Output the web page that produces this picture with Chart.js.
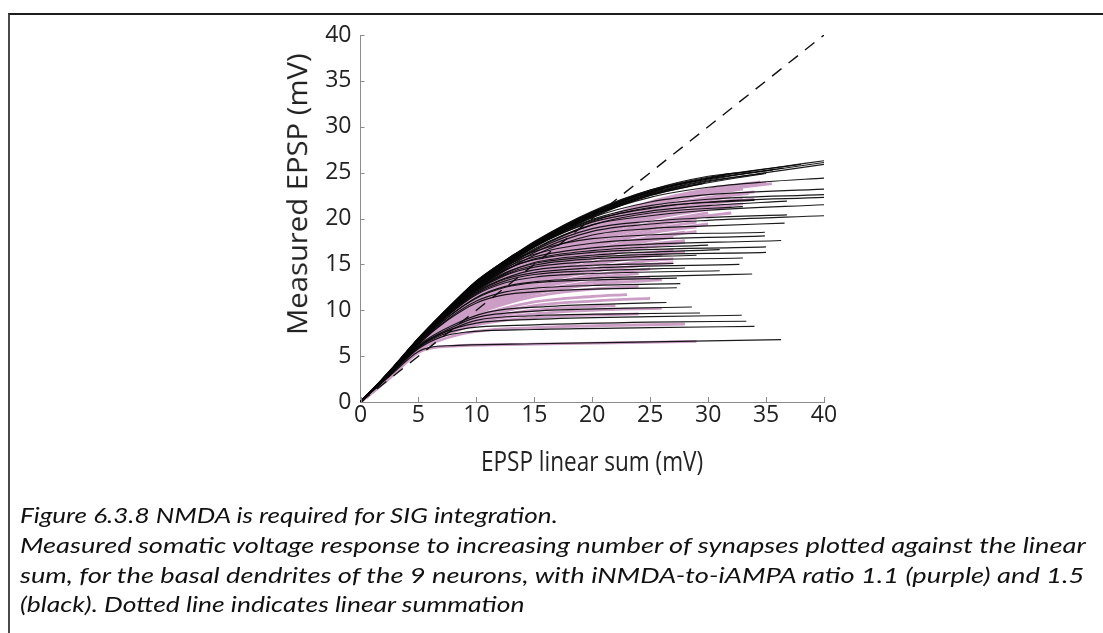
<!DOCTYPE html>
<html>
<head>
<meta charset="utf-8">
<script src="https://cdn.jsdelivr.net/npm/chart.js@4.4.1/dist/chart.umd.min.js"></script>
<style>
  html, body { margin: 0; padding: 0; background: #fff; width: 1103px; height: 633px; overflow: hidden; }
  #frame { position: absolute; left: 8px; top: 13px; right: -20px; bottom: -20px;
           border-top: 2px solid #1c1c1c; border-left: 2px solid #4a4a4a; }
  #plot { position: absolute; left: 0; top: 0; }
  .t { position: absolute; left: 0; top: 0; white-space: nowrap; color: #222; transform-origin: 0 0; line-height: 1; }
  .axisTitle { font-family: 'Open Sans', sans-serif; }
  .cap { font-family: 'Lato', sans-serif; font-style: italic; font-size: 21px; color: #111; }
</style>
</head>
<body>
<div id="frame"></div>
<canvas id="plot" width="1103" height="633"></canvas>
<div class="t axisTitle" id="xTitle" style="font-size:27px">EPSP linear sum (mV)</div>
<div class="t axisTitle" id="yTitle" style="font-size:28px">Measured EPSP (mV)</div>
<div class="t cap" id="cap1">Figure 6.3.8 NMDA is required for SIG integration.</div>
<div class="t cap" id="cap2">Measured somatic voltage response to increasing number of synapses plotted against the linear</div>
<div class="t cap" id="cap3">sum, for the basal dendrites of the 9 neurons, with iNMDA-to-iAMPA ratio 1.1 (purple) and 1.5</div>
<div class="t cap" id="cap4">(black). Dotted line indicates linear summation</div>
<script>
// Axis ticks (mV)
const xTicks = [0, 5, 10, 15, 20, 25, 30, 35, 40];
const yTicks = [0, 5, 10, 15, 20, 25, 30, 35, 40];

// Linear summation reference: measured = linear sum
const identityLine = [[0, 0], [40, 40]];

// iNMDA/iAMPA = 1.5 (black): [linear sum, measured EPSP] per recording
const blackTop = [
  [[0,0],[2.5,3.3],[5,6.9],[7.5,10.1],[10,13.0],[15,17.4],[20,20.7],[25,23.0],[30,24.4],[35,25.4],[40,26.3]],
  [[0,0],[2.5,3.3],[5,6.8],[7.5,10.0],[10,12.9],[15,17.2],[20,20.5],[25,22.8],[30,24.2],[35,25.2],[40,26.1]],
  [[0,0],[2.5,3.2],[5,6.8],[7.5,9.9],[10,12.7],[15,17.0],[20,20.3],[25,22.6],[30,24.0],[35,25.0],[40,25.9]],
  [[0,0],[2.5,3.3],[5,6.9],[7.5,10.1],[10,13.0],[15,17.3],[20,20.6],[25,22.9],[30,24.3],[35.6,25.3]],
  [[0,0],[2.5,3.3],[5,6.9],[7.5,10.2],[10,13.1],[15,17.4],[20,20.7],[25,23.1],[30,24.6],[33.6,25.1]],
  [[0,0],[2.5,3.3],[5,6.9],[7.5,10.1],[10,13.0],[15,17.3],[20,20.6],[25,23.0],[31.6,24.8]],
  [[0,0],[2.5,3.3],[5,6.8],[7.5,10.0],[10,12.9],[15,17.2],[20,20.5],[25,22.9],[28.7,24.1]],
  [[0,0],[2.5,3.2],[5,6.8],[7.5,9.9],[10,12.8],[15,17.0],[20,20.4],[25,22.6],[27.9,23.6]],
  [[0,0],[2.5,3.3],[5,6.9],[7.5,10.1],[10,13.0],[15,17.2],[20,20.5],[26.1,23.2]],
  [[0,0],[2.5,3.3],[5,6.9],[7.5,10.2],[10,13.2],[12,15.0],[14,16.6],[16,17.6],[20,20.3],[24,22.3]],
  [[0,0],[2.5,3.2],[5,6.7],[7.5,9.8],[10,12.6],[15,16.9],[20,20.1],[25,22.5],[30,23.9],[35,24.9]],
  [[0,0],[2.5,3.3],[5,6.9],[7.5,10.1],[10,13.1],[15,17.3],[20,20.6],[25,22.9],[30,24.3],[36.5,25.5]],
  [[0,0],[2.5,3.3],[5,6.8],[7.5,10.0],[10,12.9],[15,17.1],[20,20.4],[25,22.7],[30,24.1],[34.8,24.9]],
  [[0,0],[2.5,3.2],[5,6.8],[7.5,9.9],[10,12.8],[15,17.1],[20,20.2],[25,22.5],[29.5,23.8]],
  [[0,0],[2.5,3.4],[5,7.0],[7.5,10.2],[10,13.2],[12.5,15.4],[15,17.5],[20,20.8],[25,23.1],[30,24.5],[38,25.9]],
  [[0,0],[2.5,3.3],[5,6.9],[7.5,10.1],[10,13.1],[13,15.9],[14.5,16.9],[17,18.6],[20,20.3],[23,21.8]]
];
const blackUpper = [
  [[0,0],[2.5,3.2],[5,6.7],[7.5,9.7],[10,12.3],[15,16.0],[20,18.2],[25,18.9],[30,19.2],[36.6,19.5]],
  [[0,0],[2.5,3.2],[5,6.7],[7.5,9.8],[10,12.4],[15,16.3],[20,18.6],[25,19.4],[30,19.8],[40,20.3]],
  [[0,0],[2.5,3.2],[5,6.7],[7.5,9.8],[10,12.5],[15,16.5],[20,18.9],[25,19.7],[30,20.1],[36.8,20.4]],
  [[0,0],[2.5,3.2],[5,6.8],[7.5,9.9],[10,12.6],[15,16.7],[20,19.3],[25,20.3],[30,20.9],[40,21.5]],
  [[0,0],[2.5,3.2],[5,6.8],[7.5,9.9],[10,12.7],[15,16.9],[20,19.6],[25,20.8],[30,21.4],[36.8,21.9]],
  [[0,0],[2.5,3.2],[5,6.8],[7.5,9.9],[10,12.7],[15,17.0],[20,19.8],[25,21.1],[30,21.8],[40,22.3]],
  [[0,0],[2.5,3.2],[5,6.8],[7.5,10.0],[10,12.8],[15,17.0],[20,19.9],[25,21.4],[30,22.1],[40,22.6]],
  [[0,0],[2.5,3.2],[5,6.8],[7.5,10.0],[10,12.8],[15,17.1],[20,20.1],[25,21.8],[30,22.6],[40,23.2]],
  [[0,0],[2.5,3.3],[5,6.8],[7.5,10.0],[10,12.9],[15,17.2],[20,20.3],[25,22.3],[30,23.4],[35,24.0],[40,24.4]],
  [[0,0],[2.5,3.2],[5,6.7],[7.5,9.8],[10,12.6],[15,16.6],[20,19.3],[25,20.6],[33,21.3]],
  [[0,0],[2.5,3.2],[5,6.8],[7.5,9.9],[10,12.7],[15,16.9],[20,19.7],[25,21.2],[34,22.0]]
];
const blackMiddle = [
  [[0,0],[2.5,3.0],[5,6.3],[7.5,8.9],[10,10.8],[12.5,11.7],[15,12.0],[20,12.3],[27.3,12.45]],
  [[0,0],[2.5,3.0],[5,6.3],[7.5,9.0],[10,11.0],[12.5,12.0],[15,12.4],[20,12.7],[27.6,12.9]],
  [[0,0],[2.5,3.0],[5,6.4],[7.5,9.2],[10,11.3],[12.5,12.5],[15,13.0],[20,13.3],[27.3,13.5]],
  [[0,0],[2.5,3.1],[5,6.4],[7.5,9.2],[10,11.4],[12.5,12.6],[15,13.1],[20,13.5],[27,13.75],[33.8,13.95]],
  [[0,0],[2.5,3.1],[5,6.5],[7.5,9.4],[10,11.7],[12.5,13.0],[15,13.6],[20,14.0],[31,14.3]],
  [[0,0],[2.5,3.1],[5,6.5],[7.5,9.5],[10,11.9],[12.5,13.4],[15,14.1],[20,14.6],[32.7,15.0]],
  [[0,0],[2.5,3.1],[5,6.6],[7.5,9.6],[10,12.1],[12.5,13.8],[15,14.7],[20,15.3],[33,15.7]],
  [[0,0],[2.5,3.1],[5,6.6],[7.5,9.6],[10,12.2],[12.5,14.1],[15,15.1],[20,15.8],[35,16.3]],
  [[0,0],[2.5,3.2],[5,6.7],[7.5,9.7],[10,12.3],[12.5,14.4],[15,15.5],[20,16.3],[35,16.9]],
  [[0,0],[2.5,3.2],[5,6.7],[7.5,9.7],[10,12.4],[12.5,14.6],[15,15.8],[20,16.8],[36.3,17.6]],
  [[0,0],[2.5,3.2],[5,6.7],[7.5,9.8],[10,12.5],[12.5,14.8],[15,16.1],[20,17.3],[34.9,18.1]],
  [[0,0],[2.5,3.2],[5,6.8],[7.5,9.8],[10,12.6],[12.5,15.0],[15,16.4],[20,17.8],[34.9,18.5]],
  [[0,0],[2.5,3.1],[5,6.6],[7.5,9.5],[10,12.0],[12.5,13.5],[15,14.4],[20,14.9],[27,15.1]],
  [[0,0],[2.5,3.1],[5,6.6],[7.5,9.6],[10,12.2],[12.5,13.9],[15,14.9],[20,15.6],[29,16.0]],
  [[0,0],[2.5,3.2],[5,6.7],[7.5,9.7],[10,12.4],[12.5,14.4],[15,15.6],[20,16.5],[30,17.1]],
  [[0,0],[2.5,3.1],[5,6.5],[7.5,9.4],[10,11.8],[12.5,13.2],[15,13.9],[20,14.3],[28,14.6]],
  [[0,0],[2.5,3.1],[5,6.6],[7.5,9.6],[10,12.2],[12.5,14.0],[15,15.2],[20,16.0],[31,16.6]]
];
const blackLower = [
  [[0,0],[2.5,2.8],[5,5.5],[6,5.95],[8,6.15],[15,6.35],[25,6.55],[36.3,6.8]],
  [[0,0],[2.5,2.9],[5,5.8],[7,7.1],[9,7.6],[15,7.9],[25,8.1],[34,8.25]],
  [[0,0],[2.5,2.9],[5,5.9],[7,7.3],[9,8.0],[15,8.4],[25,8.7],[33.3,8.8]],
  [[0,0],[2.5,2.9],[5,6.0],[7,7.5],[10,8.6],[15,9.0],[25,9.3],[32.9,9.45]],
  [[0,0],[2.5,2.9],[5,6.0],[8,8.0],[10,8.9],[15,9.4],[22,9.6],[29.3,9.7]],
  [[0,0],[2.5,3.0],[5,6.1],[8,8.2],[10,9.2],[15,9.9],[22,10.2],[28.6,10.35]],
  [[0,0],[2.5,3.0],[5,6.2],[8,8.4],[11,9.8],[16,10.4],[22,10.7],[26.4,10.85]]
];

// iNMDA/iAMPA = 1.1 (purple)
const purpleRuns = [
  [[0,0],[2.5,3.0],[5,6.4],[7.5,9.4],[10,12.1],[15,16.3],[20,19.5],[25,21.8],[30,23.2],[34.5,24.0]],
  [[0,0],[2.5,3.0],[5,6.3],[7.5,9.3],[10,11.9],[15,16.0],[20,19.1],[25,21.3],[30,22.7],[33,23.2]],
  [[0,0],[2.5,2.9],[5,6.2],[7.5,9.1],[10,11.7],[15,15.7],[20,18.7],[25,20.8],[30,22.0],[32,22.4]],
  [[0,0],[2.5,2.9],[5,6.2],[7.5,9.0],[10,11.5],[15,15.4],[20,18.2],[25,20.2],[31,21.4]],
  [[0,0],[2.5,2.9],[5,6.1],[7.5,8.9],[10,11.3],[15,15.0],[20,17.7],[25,19.5],[30,20.6]],
  [[0,0],[2.5,2.8],[5,6.1],[7.5,8.8],[10,11.1],[15,14.6],[20,17.1],[25,18.8],[29,19.6]],
  [[0,0],[2.5,2.8],[5,6.0],[7.5,8.7],[10,10.9],[15,14.2],[20,16.5],[25,18.0],[28,18.5]],
  [[0,0],[2.5,2.8],[5,6.0],[7.5,8.6],[10,10.7],[15,13.8],[20,15.9],[25,17.2],[28,17.6]],
  [[0,0],[2.5,2.8],[5,5.9],[7.5,8.5],[10,10.5],[15,13.4],[20,15.2],[25,16.3],[27,16.6]],
  [[0,0],[2.5,2.7],[5,5.9],[7.5,8.4],[10,10.3],[15,13.0],[20,14.5],[25,15.4],[27,15.6]],
  [[0,0],[2.5,2.7],[5,5.9],[7.5,8.3],[10,10.1],[15,12.5],[20,13.8],[25,14.5]],
  [[0,0],[2.5,2.7],[5,5.8],[7.5,8.1],[10,9.9],[15,12.0],[20,13.1],[25,13.6]],
  [[0,0],[2.5,2.7],[5,5.8],[7.5,8.0],[10,9.6],[15,11.5],[20,12.3],[24,12.6]],
  [[0,0],[2.5,2.7],[5,5.8],[7.5,7.9],[10,9.3],[15,10.9],[20,11.5],[23,11.7]],
  [[0,0],[2.5,2.7],[5,5.7],[7.5,7.7],[10,8.9],[15,10.0],[22,10.5]],
  [[0,0],[2.5,2.7],[5,5.7],[7.5,7.4],[10,8.4],[15,9.2],[24,9.6]],
  [[0,0],[2.5,2.6],[5,5.6],[7.5,7.0],[10,7.7],[15,8.1],[28,8.5]],
  [[0,0],[2.5,2.6],[5,5.4],[6,5.85],[8,6.1],[15,6.3],[29,6.6]],
  [[0,0],[2.5,3.0],[5,6.4],[7.5,9.4],[10,12.0],[15,16.2],[20,19.3],[25,21.6],[30,23.0],[35,23.9]],
  [[0,0],[2.5,2.9],[5,6.3],[7.5,9.2],[10,11.8],[15,15.9],[20,18.9],[25,21.0],[30,22.3],[34,22.9]],
  [[0,0],[2.5,2.9],[5,6.2],[7.5,9.1],[10,11.6],[15,15.6],[20,18.5],[25,20.5],[30,21.7],[33,22.1]],
  [[0,0],[2.5,2.9],[5,6.2],[7.5,9.0],[10,11.4],[15,15.2],[20,17.9],[25,19.9],[30,21.0],[32,21.3]],
  [[0,0],[2.5,2.8],[5,6.1],[7.5,8.8],[10,11.2],[15,14.8],[20,17.4],[25,19.1],[29,20.0]],
  [[0,0],[2.5,2.8],[5,6.0],[7.5,8.7],[10,11.0],[15,14.4],[20,16.8],[25,18.4],[29,19.1]],
  [[0,0],[2.5,2.8],[5,6.0],[7.5,8.6],[10,10.8],[15,14.0],[20,16.2],[25,17.6],[27,18.0]],
  [[0,0],[2.5,2.7],[5,5.9],[7.5,8.4],[10,10.4],[15,13.2],[20,14.9],[25,15.9],[26,16.0]],
  [[0,0],[2.5,2.7],[5,5.8],[7.5,8.2],[10,10.0],[15,12.3],[20,13.5],[24,14.0]],
  [[0,0],[2.5,3.0],[5,6.3],[7.5,9.3],[10,12.0],[15,16.1],[20,19.2],[25,21.4],[30,22.9],[35.5,23.8]],
  [[0,0],[2.5,2.9],[5,6.3],[7.5,9.2],[10,11.8],[15,15.8],[20,18.8],[25,20.9],[30,22.2],[33.5,22.7]],
  [[0,0],[2.5,2.9],[5,6.2],[7.5,9.1],[10,11.6],[15,15.5],[20,18.4],[25,20.4],[30,21.6],[34,22.1]],
  [[0,0],[2.5,2.9],[5,6.2],[7.5,9.0],[10,11.4],[15,15.3],[20,18.0],[25,20.0],[30,21.2],[33,21.6]],
  [[0,0],[2.5,2.8],[5,6.1],[7.5,8.9],[10,11.2],[15,14.9],[20,17.5],[25,19.3],[30,20.3],[32,20.6]],
  [[0,0],[2.5,2.8],[5,6.1],[7.5,8.8],[10,11.0],[15,14.5],[20,16.9],[25,18.5],[30,19.4]],
  [[0,0],[2.5,2.8],[5,6.0],[7.5,8.7],[10,10.8],[15,14.1],[20,16.3],[25,17.8],[29,18.6]],
  [[0,0],[2.5,2.8],[5,6.0],[7.5,8.6],[10,10.6],[15,13.6],[20,15.6],[25,16.9],[28,17.4]],
  [[0,0],[2.5,2.7],[5,5.9],[7.5,8.5],[10,10.4],[15,13.2],[20,15.0],[25,16.0],[28,16.4]],
  [[0,0],[2.5,2.7],[5,5.9],[7.5,8.3],[10,10.2],[15,12.8],[20,14.2],[25,15.0],[27,15.2]],
  [[0,0],[2.5,2.7],[5,5.8],[7.5,8.2],[10,9.8],[15,11.8],[20,12.8],[26,13.3]],
  [[0,0],[2.5,2.7],[5,5.8],[7.5,7.8],[10,9.1],[15,10.5],[20,11.0],[25,11.3]],
  [[0,0],[2.5,2.7],[5,5.7],[7.5,7.6],[10,8.7],[15,9.6],[20,10.0],[26,10.2]]
];

const PURPLE = 'rgb(204,158,198)';
const BLACK = 'rgba(8,8,8,0.92)';
const AXIS = '#8c8c8c';
const TICK_FONT = { family: "'Open Sans', sans-serif", size: 23 };

function trace(points, color, width, order) {
  return {
    data: points,
    showLine: true,
    borderColor: color,
    borderWidth: width,
    pointRadius: 0,
    cubicInterpolationMode: 'monotone',
    order: order
  };
}

const datasets = [];
// higher order is painted first: purple underneath, black over it, dashed identity on top
purpleRuns.forEach(c => datasets.push(trace(c, PURPLE, 2.8, 3)));
[...blackLower, ...blackMiddle, ...blackUpper, ...blackTop]
  .forEach(c => datasets.push(trace(c, BLACK, 1.15, 2)));
datasets.push(Object.assign(trace(identityLine, '#111', 1.4, 1), { borderDash: [12, 9], cubicInterpolationMode: 'default' }));

// short tick marks drawn inward from both axes
const innerTicks = {
  id: 'innerTicks',
  afterDraw(chart) {
    const { ctx, chartArea: a, scales: { x, y } } = chart;
    ctx.save();
    ctx.strokeStyle = AXIS;
    ctx.lineWidth = 1;
    ctx.beginPath();
    xTicks.forEach(v => {
      const px = Math.round(x.getPixelForValue(v)) + 0.5;
      ctx.moveTo(px, a.bottom);
      ctx.lineTo(px, a.bottom - 5);
    });
    yTicks.forEach(v => {
      const py = Math.round(y.getPixelForValue(v)) + 0.5;
      ctx.moveTo(a.left, py);
      ctx.lineTo(a.left + 4, py);
    });
    ctx.stroke();
    ctx.restore();
  }
};

function drawChart() {
  new Chart(document.getElementById('plot'), {
    type: 'scatter',
    data: { datasets },
    plugins: [innerTicks],
    options: {
      responsive: false,
      animation: false,
      devicePixelRatio: 1,
      layout: { padding: { left: 0, top: 35, right: 279, bottom: 0 } },
      plugins: { legend: { display: false }, tooltip: { enabled: false } },
      scales: {
        x: {
          type: 'linear', min: 0, max: 40,
          afterFit(s) { s.height = 231; },
          afterBuildTicks(s) { s.ticks = xTicks.map(v => ({ value: v })); },
          grid: { display: false, drawTicks: false },
          border: { display: true, color: AXIS, width: 1 },
          ticks: { padding: 0, color: '#222', font: TICK_FONT, maxRotation: 0 }
        },
        y: {
          type: 'linear', min: 0, max: 40,
          afterFit(s) { s.width = 360.5; },
          afterBuildTicks(s) { s.ticks = yTicks.map(v => ({ value: v })); },
          grid: { display: false, drawTicks: false },
          border: { display: true, color: AXIS, width: 1 },
          ticks: { padding: 9, color: '#222', font: TICK_FONT }
        }
      }
    }
  });
}

// place text blocks: horizontal ones by left edge / centre, scaled to their set width
function placeH(id, left, midY, width, centre) {
  const el = document.getElementById(id);
  const w = el.offsetWidth, h = el.offsetHeight;
  const s = width / w;
  const x = centre ? left - width / 2 : left;
  el.style.transform = `translate(${x}px, ${midY - h * 0.53}px) scale(${s}, 1)`;
}
function placeV(id, cx, cy, length) {
  const el = document.getElementById(id);
  const w = el.offsetWidth, h = el.offsetHeight;
  const s = length / w;
  el.style.transform = `translate(${cx}px, ${cy}px) rotate(-90deg) scale(${s}, 1) translate(${-w / 2}px, ${-h * 0.53}px)`;
}
function layoutText() {
  placeH('xTitle', 592, 461, 222, true);
  placeV('yTitle', 297, 194, 282);
  placeH('cap1', 20, 515, 538, false);
  placeH('cap2', 20, 545, 1066, false);
  placeH('cap3', 20, 575, 1064, false);
  placeH('cap4', 20, 604, 505, false);
}

let drawn = false;
function start() {
  if (drawn) return;
  drawn = true;
  layoutText();
  drawChart();
}
if (document.fonts && document.fonts.load) {
  Promise.all([
    document.fonts.load("23px 'Open Sans'"),
    document.fonts.load("italic 21px 'Lato'")
  ]).then(start, start);
  setTimeout(start, 1500);
} else {
  start();
}
</script>
</body>
</html>
